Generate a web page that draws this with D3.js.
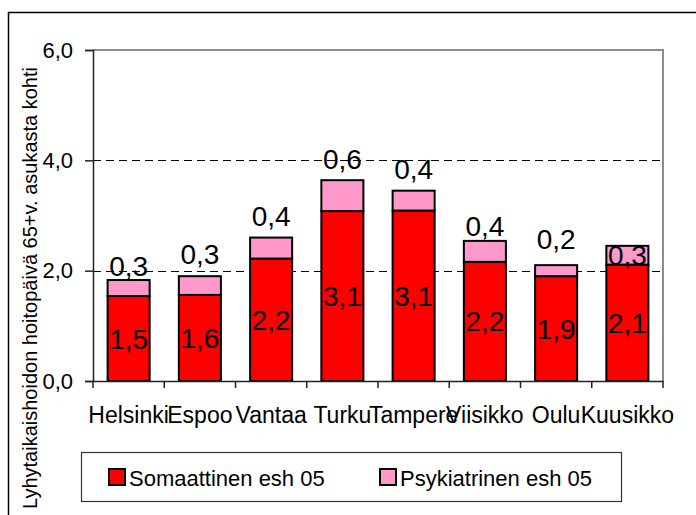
<!DOCTYPE html>
<html>
<head>
<meta charset="utf-8">
<script src="https://cdn.jsdelivr.net/npm/d3@7"></script>
<style>
  body { margin: 0; background: #fff; }
  svg text { font-family: "Liberation Sans", Arial, sans-serif; fill: #000; }
</style>
</head>
<body>
<div id="viz"></div>
<script>
// kaupungit
var cities = ['Helsinki', 'Espoo', 'Vantaa', 'Turku', 'Tampere', 'Viisikko', 'Oulu', 'Kuusikko'];
// hoitopäivät / 65+v. asukas
var somaattinen = [1.54, 1.56, 2.22, 3.08, 3.09, 2.16, 1.90, 2.11];
var psykiatrinen = [0.29, 0.34, 0.38, 0.56, 0.36, 0.38, 0.20, 0.34];
var seriesNames = ['Somaattinen esh 05', 'Psykiatrinen esh 05'];
var yTicks = [0, 2, 4, 6];

// label nudges (px, baseline above bar top); null = centred in segment
var psyLabelLift = [4, 12, 12, 11, 12, 5, 16, null];

var width = 696,
    height = 515,
    plotL = 93, plotR = 663,
    plotT = 50, plotB = 381;

var fi = d3.formatLocale({decimal: ',', thousands: ' ', grouping: [3], currency: ['', '€']});
var f1 = fi.format('.1f');

var colors = ['#FF0000', '#FF99CC'];

var stack = d3.stack().keys([0, 1])
  .value(function(d, k) { return k === 0 ? d.som : d.psy; });
var rows = cities.map(function(c, i) {
  return {city: c, som: somaattinen[i], psy: psykiatrinen[i], i: i};
});
var layers = stack(rows);

var y = d3.scaleLinear()
    .domain([0, 6])
    .range([plotB, plotT]);

var x = d3.scaleBand()
    .domain(cities)
    .paddingInner(.41)
    .paddingOuter(.205)
    .range([plotL, plotR]);

var svg = d3.select('#viz').append('svg')
  .attr('width', width)
  .attr('height', height);

// chart border
svg.append('rect')
  .attr('x', 8.5).attr('y', 12.5)
  .attr('width', 720).attr('height', 540)
  .attr('fill', 'none')
  .attr('stroke', '#000')
  .attr('stroke-width', 1.5);

// plot area frame (top + right, grey)
svg.append('path')
  .attr('d', 'M' + plotL + ',' + plotT + 'H' + plotR + 'V' + plotB)
  .attr('fill', 'none')
  .attr('stroke', '#8c8c8c')
  .attr('stroke-width', 2);

// dashed grid
svg.append('g').selectAll('line')
  .data(yTicks.filter(function(d) { return d > 0 && d < 6; }))
  .enter().append('line')
    .attr('x1', plotL).attr('x2', plotR)
    .attr('y1', function(d) { return Math.round(y(d)) + .5; })
    .attr('y2', function(d) { return Math.round(y(d)) + .5; })
    .attr('stroke', '#000')
    .attr('stroke-dasharray', '8,5');

// bars
svg.append('g').selectAll('g').data(layers)
  .enter().append('g')
    .attr('fill', function(d, k) { return colors[k]; })
  .selectAll('rect').data(function(d) { return d; })
  .enter().append('rect')
    .attr('x', function(d) { return x(d.data.city); })
    .attr('width', x.bandwidth())
    .attr('y', function(d) { return y(d[1]); })
    .attr('height', function(d) { return y(d[0]) - y(d[1]); })
    .attr('stroke', '#000')
    .attr('stroke-width', 2);

// y axis
var yAxis = svg.append('g')
  .attr('transform', 'translate(' + plotL + ',0)')
  .call(d3.axisLeft(y).tickValues(yTicks).tickSize(8).tickPadding(12).tickFormat(f1));
yAxis.select('.domain').attr('stroke', '#222').attr('stroke-width', 1.5);
yAxis.selectAll('.tick line').attr('stroke', '#222').attr('stroke-width', 1.5);
yAxis.selectAll('.tick text')
  .style('font-size', '22px')
  .attr('fill', '#000');

// x axis
var xAxis = svg.append('g')
  .attr('transform', 'translate(0,' + plotB + ')')
  .call(d3.axisBottom(x).tickSize(0).tickPadding(0));
xAxis.select('.domain').attr('stroke', '#222').attr('stroke-width', 1.5);
xAxis.selectAll('.tick text')
  .style('font-size', '23px')
  .attr('fill', '#000')
  .attr('dy', null)
  .attr('y', 42);
xAxis.selectAll('.bound').data(d3.range(cities.length + 1))
  .enter().append('line')
    .attr('class', 'bound')
    .attr('x1', function(i) { return plotL + i * x.step(); })
    .attr('x2', function(i) { return plotL + i * x.step(); })
    .attr('y1', 0).attr('y2', 7)
    .attr('stroke', '#222')
    .attr('stroke-width', 1.5);

// value labels
var lab = svg.append('g').style('font-size', '28px').attr('text-anchor', 'middle');
lab.selectAll('.som').data(layers[0])
  .enter().append('text')
    .attr('x', function(d) { return x(d.data.city) + x.bandwidth() / 2; })
    .attr('y', function(d) { return (y(d[0]) + y(d[1])) / 2 + 10; })
    .text(function(d) { return f1(d.data.som); });
lab.selectAll('.psy').data(layers[1])
  .enter().append('text')
    .attr('x', function(d) { return x(d.data.city) + x.bandwidth() / 2; })
    .attr('y', function(d, i) {
      var lift = psyLabelLift[i];
      if (lift === null) return (y(d[0]) + y(d[1])) / 2 + 10;
      return y(d[1]) - lift;
    })
    .text(function(d) { return f1(d.data.psy); });

// y title
svg.append('text')
  .attr('transform', 'translate(37,288) rotate(-90)')
  .attr('text-anchor', 'middle')
  .style('font-size', '20px')
  .text('Lyhytaikaishoidon hoitopäivä 65+v. asukasta kohti');

// legend
var leg = svg.append('g');
leg.append('rect')
  .attr('x', 81.5).attr('y', 452.5)
  .attr('width', 540).attr('height', 49)
  .attr('fill', '#fff')
  .attr('stroke', '#333')
  .attr('stroke-width', 1.2);
var legX = [109, 380];
var item = leg.selectAll('.item').data(seriesNames)
  .enter().append('g')
    .attr('transform', function(d, i) { return 'translate(' + legX[i] + ',469)'; });
item.append('rect')
  .attr('width', 16).attr('height', 16)
  .attr('fill', function(d, i) { return colors[i]; })
  .attr('stroke', '#000')
  .attr('stroke-width', 2);
item.append('text')
  .attr('x', 20).attr('y', 16.5)
  .style('font-size', '22px')
  .text(function(d) { return d; });
</script>
</body>
</html>
